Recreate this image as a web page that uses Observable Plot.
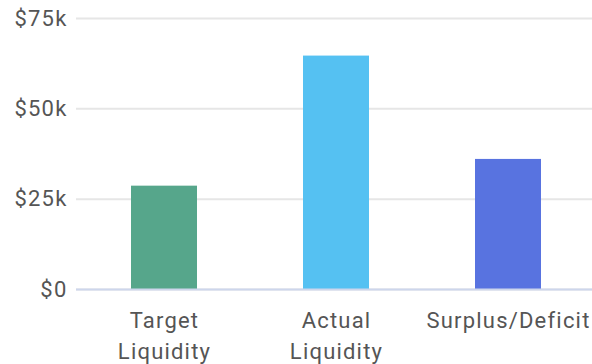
<!DOCTYPE html>
<html>
<head>
<meta charset="utf-8">
<script src="https://cdn.jsdelivr.net/npm/d3@7"></script>
<script src="https://cdn.jsdelivr.net/npm/@observablehq/plot@0.6"></script>
<style>
  html, body { margin: 0; padding: 0; background: #fff; }
  #chart svg { display: block; }
  #chart svg text { letter-spacing: 1.2px; }
</style>
</head>
<body>
<div id="chart"></div>
<script>
// Liquidity comparison (USD)
const categories = ["Target\nLiquidity", "Actual\nLiquidity", "Surplus/Deficit"];
const values = [28600, 64600, 36000];
const colors = ["#56a68b", "#55c1f2", "#5873e0"];
const yTicks = [0, 25000, 50000, 75000];

const data = categories.map((c, i) => ({category: c, value: values[i], color: colors[i]}));
const fmt = d => d === 0 ? "$0" : `$${d / 1000}k`;

const chart = Plot.plot({
  width: 592,
  height: 364,
  marginTop: 18,
  marginBottom: 75,
  marginLeft: 76,
  marginRight: 0,
  style: {fontFamily: "Roboto, sans-serif", fontSize: "22px", color: "#555"},
  x: {domain: categories, range: [78, 594], paddingInner: 0.616, paddingOuter: 0.308, label: null},
  y: {domain: [0, 75000], label: null},
  marks: [
    Plot.gridY(yTicks, {stroke: "#e6e6e6", strokeWidth: 2, strokeOpacity: 1}),
    Plot.barY(data, {x: "category", y: "value", fill: "color"}),
    Plot.ruleY([0], {stroke: "#cdd6ec", strokeWidth: 2}),
    Plot.axisY(yTicks, {tickSize: 0, tickPadding: 9, tickFormat: fmt, fill: "#555", fontSize: 22}),
    Plot.axisX({tickSize: 0, tickPadding: 17, fill: "#555", fontSize: 22, lineHeight: 1.4})
  ]
});
document.getElementById("chart").append(chart);
</script>
</body>
</html>
